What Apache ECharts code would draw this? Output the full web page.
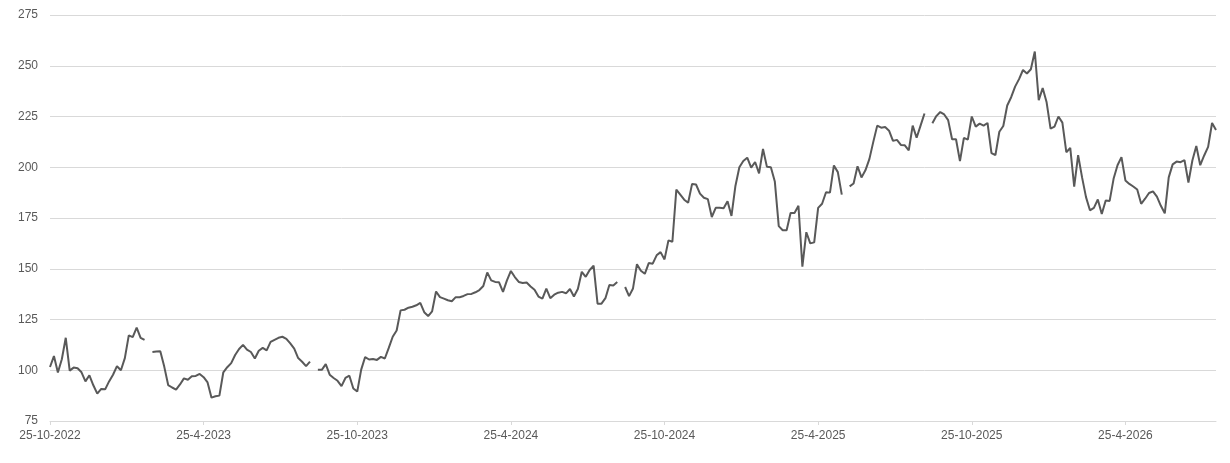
<!DOCTYPE html>
<html>
<head>
<meta charset="utf-8">
<script src="https://cdn.jsdelivr.net/npm/echarts@6/dist/echarts.min.js"></script>
<style>
  html, body { margin: 0; padding: 0; background: #ffffff; }
  #chart { width: 1230px; height: 463px; }
</style>
</head>
<body>
<div id="chart"></div>
<script>
// Tick labels shown every 39 samples (half-year steps)
const tickLabels = ['25-10-2022', '25-4-2023', '25-10-2023', '25-4-2024', '25-10-2024', '25-4-2025', '25-10-2025', '25-4-2026'];
const labelStep = 39;

// Series values sampled at equal time steps (null = missing data)
const values = [
  101.6, 107, 98.9, 105.4, 116, 99.8, 101.3, 101, 99, 94.5,
  97.5, 92.6, 88.5, 90.8, 90.6, 94.5, 97.8, 102, 100, 106,
  117.2, 116.3, 121, 116, 115, null, 109, 109.2, 109.3, 101.8,
  92.7, 91.5, 90.5, 93, 96, 95.3, 97, 97.2, 98.2, 96.6,
  94, 86.5, 87.2, 87.5, 99, 101.5, 103.5, 107.5, 110.5, 112.5,
  110.2, 109, 105.8, 109.6, 111, 109.8, 114, 115, 116, 116.5,
  115.5, 113.2, 110.7, 106, 104.2, 102, 104.3, null, 100.2, 100.2,
  103, 97.8, 96.2, 94.8, 92.2, 96.2, 97.3, 91, 89.5, 100.3,
  106.5, 105.3, 105.5, 105.1, 106.6, 105.8, 111, 116.5, 119.6, 129.5,
  129.8, 130.8, 131.3, 132, 133.2, 128.6, 126.7, 129, 138.8, 136,
  135.3, 134.5, 134, 136, 136, 136.6, 137.5, 137.6, 138.4, 139.5,
  141.5, 148.2, 144.3, 143.5, 143.3, 138.6, 144.3, 148.9, 145.9, 143.5,
  143, 143.2, 141.3, 139.7, 136.3, 135.3, 140.2, 135.5, 137.2, 138.2,
  138.6, 137.9, 140, 136.3, 140, 148.5, 146, 149.4, 151.5, 132.8,
  132.8, 135.5, 142, 141.8, 143.5, null, 141, 136.5, 140.3, 152.2,
  149, 147.5, 152.8, 152.5, 156.6, 158.2, 154.6, 164, 163.3, 189,
  186.5, 184, 182.5, 191.8, 191.5, 187, 185, 184.3, 175.5, 180,
  180, 179.8, 183.3, 176, 190.8, 200, 203.1, 204.7, 199.8, 202.6,
  197, 209, 200.2, 200, 193, 171, 169, 169, 177.5, 177.5,
  181, 151, 168, 162.5, 163, 180, 182, 187.7, 187.5, 200.9,
  197.6, 186.5, null, 190.6, 192, 200.5, 195, 198.5, 204, 212.5,
  220.5, 219.5, 219.8, 218, 213, 213.5, 211, 210.8, 208.3, 220.5,
  214.5, 220.5, 226.5, null, 221.7, 225.2, 227.2, 226, 223.2, 213.8,
  213.8, 203, 214.5, 213.6, 225, 220, 221.5, 220.5, 221.8, 207,
  206, 217.5, 220.3, 230.4, 234.5, 239.7, 243.4, 247.9, 246.2, 248.3,
  257, 233, 239, 232, 219, 220, 225, 222, 207.4, 209.5,
  190.5, 206, 195, 185.3, 178.8, 180, 184.1, 177, 183.6, 183.4,
  194.3, 201, 205, 193.5, 191.8, 190.5, 189, 182, 184.5, 187.3,
  188.1, 185.5, 181, 177.3, 195, 201.4, 202.8, 202.5, 203.5, 192.5,
  203.3, 210.5, 201, 205.8, 210, 221.8, 218.4
];

const categories = values.map((_, i) => i);

const chart = echarts.init(document.getElementById('chart'), null, { renderer: 'canvas' });
const fontFamily = '"Liberation Sans Narrow", "Liberation Sans", Arial, sans-serif';
chart.setOption({
  animation: false,
  backgroundColor: '#ffffff',
  grid: { left: 50, right: 14, top: 15, bottom: 42, containLabel: false },
  xAxis: {
    type: 'category',
    data: categories,
    boundaryGap: false,
    axisLine: { show: true, lineStyle: { color: '#d9d9d9', width: 1 } },
    axisTick: { show: true, interval: labelStep - 1, length: 4, lineStyle: { color: '#d9d9d9' } },
    axisLabel: {
      interval: labelStep - 1,
      margin: 9,
      color: '#595959',
      fontSize: 12,
      fontFamily: fontFamily,
      formatter: function (value, index) {
        const k = index / labelStep;
        return Number.isInteger(k) && tickLabels[k] ? tickLabels[k] : '';
      }
    },
    splitLine: { show: false }
  },
  yAxis: {
    type: 'value',
    min: 75,
    max: 275,
    interval: 25,
    axisLine: { show: false },
    axisTick: { show: false },
    axisLabel: { color: '#595959', fontSize: 12, fontFamily: fontFamily, margin: 12 },
    splitLine: { show: true, lineStyle: { color: '#d9d9d9', width: 1 } }
  },
  series: [{
    type: 'line',
    data: values,
    showSymbol: false,
    connectNulls: false,
    lineStyle: { color: '#595959', width: 2 },
    itemStyle: { color: '#595959' }
  }]
});
</script>
</body>
</html>
